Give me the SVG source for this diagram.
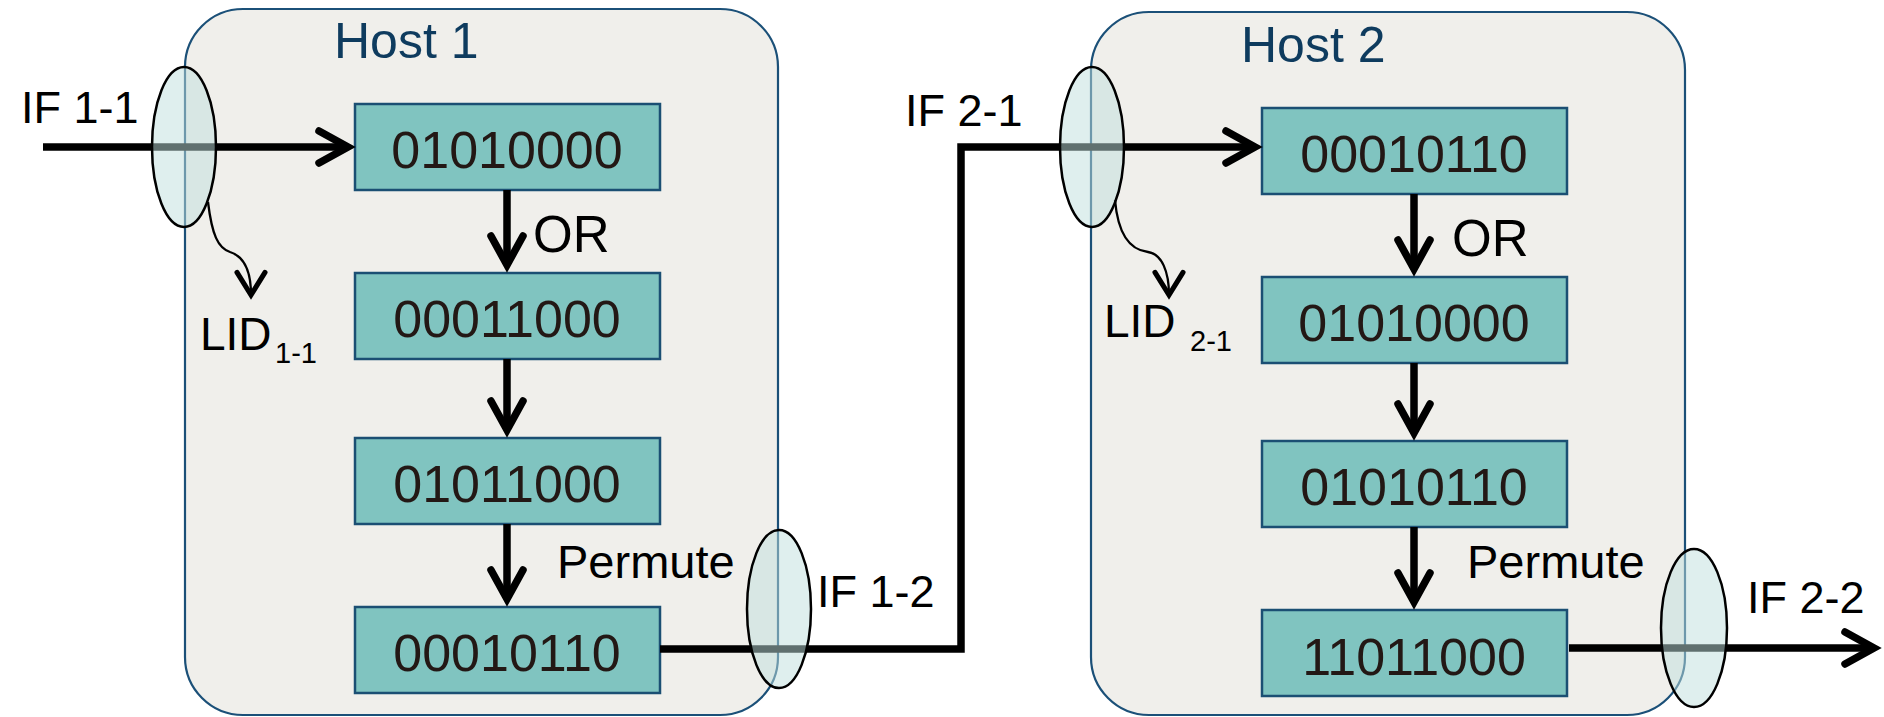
<svg xmlns="http://www.w3.org/2000/svg" width="1884" height="717" viewBox="0 0 1884 717">
<style>
.host{fill:#F0EFEB;stroke:#1B5078;stroke-width:2.2}
.box{fill:#80C4C0;stroke:#1B4F73;stroke-width:2.5}
.bt{font-family:"Liberation Sans",Arial,sans-serif;font-size:52px;fill:#231815;text-anchor:middle}
.ht{font-family:"Liberation Sans",Arial,sans-serif;font-size:50px;fill:#0E3B5E}
.lb{font-family:"Liberation Sans",Arial,sans-serif;fill:#000}
.ln{fill:none;stroke:#000;stroke-width:7.5;stroke-linejoin:miter}
.thin{fill:none;stroke:#000;stroke-width:2.3}
.ifc{fill:#BFE0DE;fill-opacity:0.5;stroke:#000;stroke-width:2.5}
</style>
<defs>
<marker id="ah" markerUnits="userSpaceOnUse" markerWidth="60" markerHeight="60" viewBox="-40 -25 60 50" refX="0" refY="0" orient="auto">
<path d="M-29,-16 L0,0 L-29,16" fill="none" stroke="#000" stroke-width="7.5" stroke-linecap="round" stroke-linejoin="miter"/>
</marker>
<marker id="ahs" markerUnits="userSpaceOnUse" markerWidth="40" markerHeight="40" viewBox="-25 -15 30 30" refX="0" refY="0" orient="auto">
<path d="M-17,-10.5 L0,0 L-17,10.5" fill="none" stroke="#000" stroke-width="3.8" stroke-linecap="round" stroke-linejoin="miter"/>
</marker>
</defs>

<g id="host1">
<rect class="host" x="185" y="9" width="593" height="706" rx="58" ry="58"/>
<text class="ht" x="334" y="58">Host 1</text>
</g>
<g id="host2">
<rect class="host" x="1091" y="12" width="594" height="703" rx="58" ry="58"/>
<text class="ht" x="1241" y="62">Host 2</text>
</g>

<g id="h1b1"><rect class="box" x="355" y="104" width="305" height="86"/><text class="bt" x="507" y="168">01010000</text></g>
<g id="h1b2"><rect class="box" x="355" y="273" width="305" height="86"/><text class="bt" x="507" y="337">00011000</text></g>
<g id="h1b3"><rect class="box" x="355" y="438" width="305" height="86"/><text class="bt" x="507" y="502">01011000</text></g>
<g id="h1b4"><rect class="box" x="355" y="607" width="305" height="86"/><text class="bt" x="507" y="671">00010110</text></g>

<g id="h2b1"><rect class="box" x="1262" y="108" width="305" height="86"/><text class="bt" x="1414" y="172">00010110</text></g>
<g id="h2b2"><rect class="box" x="1262" y="277" width="305" height="86"/><text class="bt" x="1414" y="341">01010000</text></g>
<g id="h2b3"><rect class="box" x="1262" y="441" width="305" height="86"/><text class="bt" x="1414" y="505">01010110</text></g>
<g id="h2b4"><rect class="box" x="1262" y="610" width="305" height="86"/><text class="bt" x="1414" y="675">11011000</text></g>

<g id="connectors">
<path class="ln" d="M43,147 H348" marker-end="url(#ah)"/>
<path class="ln" d="M507,190 V265" marker-end="url(#ah)"/>
<path class="ln" d="M507,359 V430" marker-end="url(#ah)"/>
<path class="ln" d="M507,524 V599" marker-end="url(#ah)"/>
<path class="ln" d="M660,649 H961 V147 H1255" marker-end="url(#ah)"/>
<path class="ln" d="M1414,194 V269" marker-end="url(#ah)"/>
<path class="ln" d="M1414,363 V433" marker-end="url(#ah)"/>
<path class="ln" d="M1414,527 V602" marker-end="url(#ah)"/>
<path class="ln" d="M1569,648 H1874" marker-end="url(#ah)"/>
<path class="thin" d="M208,202 C212,235 218,248 230,252 C243,256 251,270 251,295" marker-end="url(#ahs)"/>
<path class="thin" d="M1115,200 C1118,235 1130,250 1148,252 C1162,254 1169,272 1169,295" marker-end="url(#ahs)"/>
</g>

<g id="if11"><ellipse class="ifc" cx="184" cy="147" rx="32" ry="80"/></g>
<g id="if12"><ellipse class="ifc" cx="779" cy="609" rx="32" ry="79"/></g>
<g id="if21"><ellipse class="ifc" cx="1092" cy="147" rx="32" ry="80"/></g>
<g id="if22"><ellipse class="ifc" cx="1694" cy="628" rx="33" ry="79"/></g>

<g id="labels">
<text class="lb" x="21" y="123" font-size="45">IF 1-1</text>
<text class="lb" x="817" y="607" font-size="45">IF 1-2</text>
<text class="lb" x="905" y="126" font-size="45">IF 2-1</text>
<text class="lb" x="1747" y="613" font-size="45">IF 2-2</text>
<text class="lb" x="533" y="252" font-size="51">OR</text>
<text class="lb" x="1452" y="256" font-size="51">OR</text>
<text class="lb" x="557" y="578" font-size="47">Permute</text>
<text class="lb" x="1467" y="578" font-size="47">Permute</text>
<text class="lb" x="200" y="350" font-size="46">LID<tspan x="275" y="363" font-size="29">1-1</tspan></text>
<text class="lb" x="1104" y="337" font-size="46">LID<tspan x="1190" y="351" font-size="29">2-1</tspan></text>
</g>
</svg>
